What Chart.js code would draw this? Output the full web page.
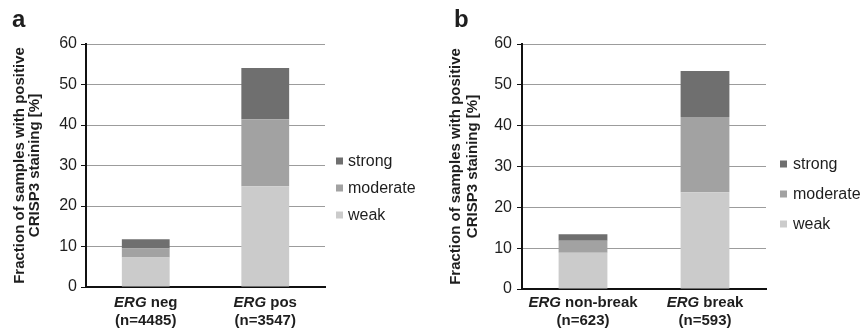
<!DOCTYPE html>
<html>
<head>
<meta charset="utf-8">
<script src="https://cdn.jsdelivr.net/npm/chart.js@4.4.1/dist/chart.umd.min.js"></script>
<style>
  body { margin: 0; background: #fff; }
  .panel { position: absolute; top: 0; width: 430px; height: 329px; }
</style>
</head>
<body>
<div class="panel" style="left:0"><canvas id="chartA"></canvas></div>
<div class="panel" style="left:430px"><canvas id="chartB"></canvas></div>
<script>
const seriesNames = ['weak', 'moderate', 'strong'];
const seriesColors = ['#cbcbcb', '#a2a2a2', '#6f6f6f'];
const yTicks = [0, 10, 20, 30, 40, 50, 60];

const categoriesA = ['ERG neg', 'ERG pos'];
const samplesA = ['(n=4485)', '(n=3547)'];
const weakA = [7.3, 24.9];
const moderateA = [2.2, 16.5];
const strongA = [2.3, 12.7];

const categoriesB = ['ERG non-break', 'ERG break'];
const samplesB = ['(n=623)', '(n=593)'];
const weakB = [8.9, 23.7];
const moderateB = [2.9, 18.4];
const strongB = [1.6, 11.3];

const FONT = '"Liberation Sans", Arial, Helvetica, sans-serif';
const INK = '#1e1e1e';

// panel letter, x labels with italic gene name, legend on the right
const panelDecor = {
  id: 'panelDecor',
  afterDraw(chart, args, opts) {
    const { ctx, chartArea, scales } = chart;
    ctx.save();
    ctx.fillStyle = INK;
    ctx.textAlign = 'left';
    ctx.textBaseline = 'alphabetic';
    ctx.font = 'bold 24px ' + FONT;
    ctx.fillText(opts.letter, opts.letterX, 27);

    const italic = 'italic bold 15px ' + FONT;
    const bold = 'bold 15px ' + FONT;
    chart.data.labels.forEach((lab, i) => {
      const x = scales.x.getPixelForValue(i);
      const words = lab[0].split(' ');
      const gene = words[0] + ' ';
      const rest = words.slice(1).join(' ');
      ctx.font = italic;
      const w1 = ctx.measureText(gene).width;
      ctx.font = bold;
      const w2 = ctx.measureText(rest).width;
      let x0 = x - (w1 + w2) / 2;
      const y1 = chartArea.bottom + opts.line1;
      ctx.font = italic;
      ctx.fillText(gene, x0, y1);
      ctx.font = bold;
      ctx.fillText(rest, x0 + w1, y1);
      ctx.textAlign = 'center';
      ctx.fillText(lab[1], x, chartArea.bottom + opts.line2);
      ctx.textAlign = 'left';
    });

    const sets = chart.data.datasets.slice().reverse();
    const n = sets.length;
    ctx.font = '16px ' + FONT;
    ctx.textBaseline = 'middle';
    sets.forEach((ds, k) => {
      const yc = opts.legendY + (k - (n - 1) / 2) * opts.legendGap;
      const bx = chartArea.right + opts.legendDx;
      ctx.fillStyle = ds.backgroundColor;
      ctx.fillRect(bx, yc - 3.5, 7, 7);
      ctx.fillStyle = INK;
      ctx.fillText(ds.label, bx + opts.textDx, yc + 1);
    });
    ctx.restore();
  }
};

function makeChart(id, categories, samples, weak, moderate, strong, look) {
  const values = [weak, moderate, strong];
  return new Chart(document.getElementById(id), {
    type: 'bar',
    data: {
      labels: categories.map((c, i) => [c, samples[i]]),
      datasets: seriesNames.map((name, k) => ({
        label: name,
        data: values[k],
        backgroundColor: seriesColors[k],
        borderWidth: 0,
        barPercentage: 0.5,
        categoryPercentage: 0.8
      }))
    },
    options: {
      responsive: true,
      maintainAspectRatio: false,
      animation: false,
      events: [],
      layout: { padding: { top: 44, right: look.padRight, bottom: 0, left: 0 } },
      plugins: {
        legend: { display: false },
        tooltip: { enabled: false },
        panelDecor: look.decor
      },
      scales: {
        x: {
          stacked: true,
          grid: { display: false },
          border: { display: true, color: '#111', width: 2 },
          ticks: { display: false },
          afterFit(s) { s.height = look.xHeight; }
        },
        y: {
          stacked: true,
          min: 0,
          max: 60,
          afterBuildTicks(s) { s.ticks = yTicks.map(v => ({ value: v })); },
          grid: { color: '#9c9c9c', lineWidth: 1, drawTicks: true, tickLength: 5, tickColor: '#111' },
          border: { display: true, color: '#111', width: 2 },
          ticks: { color: INK, padding: look.tickPad, font: { family: FONT, size: 16 } },
          title: {
            display: true,
            text: ['Fraction of samples with positive', 'CRISP3 staining [%]'],
            color: INK,
            font: { family: FONT, size: 15, weight: 'bold', lineHeight: look.titleLH },
            padding: { top: look.titlePad, bottom: 0 }
          },
          afterFit(s) { s.width = look.yWidth; }
        }
      }
    },
    plugins: [panelDecor]
  });
}

makeChart('chartA', categoriesA, samplesA, weakA, moderateA, strongA, {
  padRight: 105, xHeight: 42, yWidth: 86, tickPad: 4, titleLH: 1.0, titlePad: 12,
  decor: { letter: 'a', letterX: 12, line1: 20, line2: 38, legendY: 188, legendGap: 27, legendDx: 11, textDx: 12 }
});

makeChart('chartB', categoriesB, samplesB, weakB, moderateB, strongB, {
  padRight: 94, xHeight: 40, yWidth: 92, tickPad: 5, titleLH: 1.1, titlePad: 18,
  decor: { letter: 'b', letterX: 24, line1: 18, line2: 36, legendY: 194, legendGap: 30, legendDx: 14, textDx: 13 }
});
</script>
</body>
</html>
